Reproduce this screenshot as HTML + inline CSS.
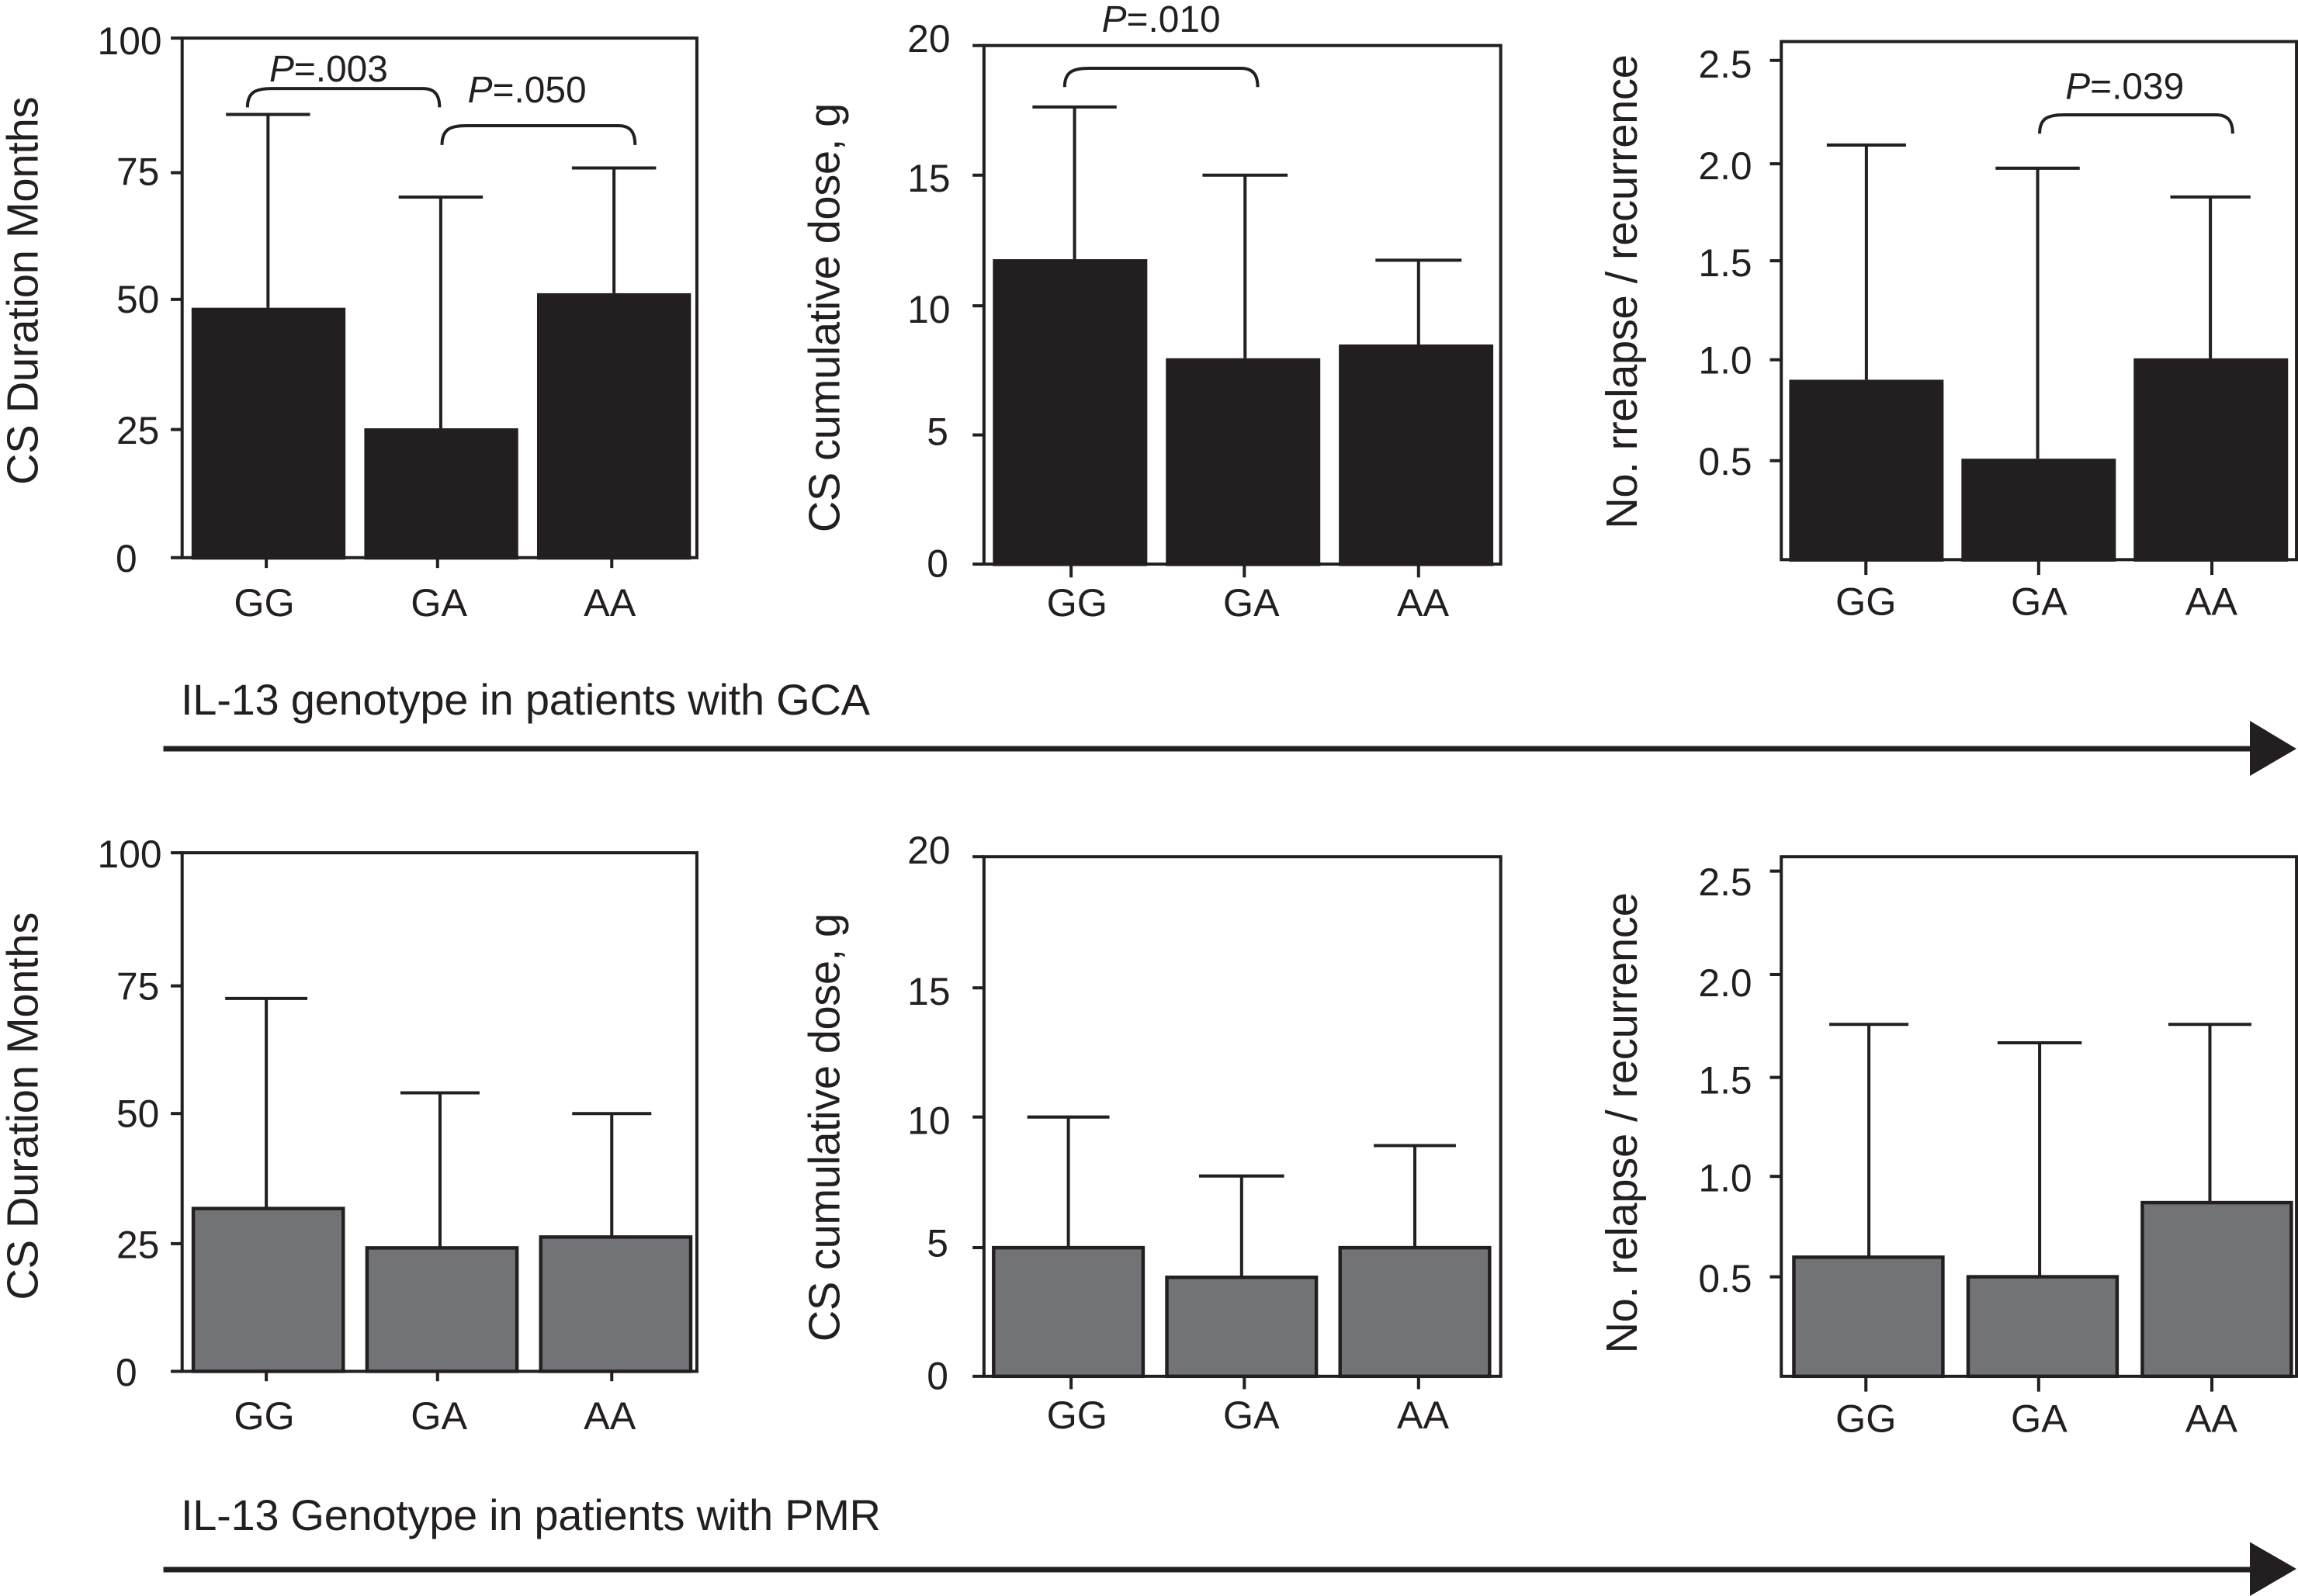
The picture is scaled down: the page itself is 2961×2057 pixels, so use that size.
<!DOCTYPE html>
<html lang="en">
<head>
<meta charset="utf-8">
<title>IL-13 genotype bar charts</title>
<style>
html,body{margin:0;padding:0;background:#fff;}
svg{display:block;}
text{font-family:"Liberation Sans",Arial,sans-serif;fill:#231f20;}
</style>
</head>
<body>
<svg id="figure" xmlns="http://www.w3.org/2000/svg" width="2961" height="2057" viewBox="0 0 2961 2057">
  <rect x="0" y="0" width="2961" height="2057" fill="#ffffff"/>
  <text x="233" y="921" font-size="56" textLength="888" lengthAdjust="spacing">IL-13 genotype in patients with GCA</text>
  <rect x="210.5" y="961.5" width="2692" height="7" fill="#231f20"/>
  <polygon points="2899,929 2959,965 2899,1000" fill="#231f20"/>
  <text x="233" y="1972" font-size="56" textLength="902" lengthAdjust="spacing">IL-13 Genotype in patients with PMR</text>
  <rect x="210.5" y="2019.5" width="2692" height="7" fill="#231f20"/>
  <polygon points="2899,1987.5 2959,2022 2899,2057" fill="#231f20"/>
</svg>
<script>
// ---------- chart data ----------
const categories = ['GG', 'GA', 'AA'];

const durationTicks = [0, 25, 50, 75, 100];
const durationTickLabels = ['0', '25', '50', '75', '100'];
const doseTicks = [0, 5, 10, 15, 20];
const doseTickLabels = ['0', '5', '10', '15', '20'];
const relapseTicks = [0.5, 1, 1.5, 2, 2.5];
const relapseTickLabels = ['0.5', '1.0', '1.5', '2.0', '2.5'];

const gcaDurationMeans = [48.1, 24.9, 50.9];
const gcaDurationUppers = [85.3, 69.4, 75.0];
const gcaDoseMeans = [11.76, 7.94, 8.47];
const gcaDoseUppers = [17.63, 15.0, 11.72];
const gcaRelapseMeans = [0.9, 0.505, 1.007];
const gcaRelapseUppers = [2.074, 1.958, 1.814];

const pmrDurationMeans = [31.4, 23.8, 25.9];
const pmrDurationUppers = [71.9, 53.7, 49.7];
const pmrDoseMeans = [4.95, 3.81, 4.95];
const pmrDoseUppers = [9.98, 7.71, 8.88];
const pmrRelapseMeans = [0.59, 0.493, 0.86];
const pmrRelapseUppers = [1.743, 1.652, 1.743];

// ---------- panel layout (units: 1000px crop shown at 1568) ----------
const panels = [
  { id:'gca-duration', ox:0, oy:0, left:368, right:1408, top:77, base:1127, yMax:100,
    ticks:durationTicks, tickLabels:durationTickLabels, means:gcaDurationMeans, uppers:gcaDurationUppers,
    solid:true, barStart:387, pitch:349, barW:311,
    errDx:[-1,-1,0], capL:[85,85,85], tickX:[538,884,1236], tickBottom:1148, catX:[534,887,1232], catBase:1245,
    tickDy:[0,3.5,3,9.5,0], labelDy:[29,32.5,30,34.5,33], labelRight:322, labelDx:[-45,0,0,0,5],
    title:'CS Duration Months', titleX:76, titleY:980, titleLen:785,
    brackets:[[500,888,179,217],[893,1283,254,293]],
    pLabels:[['=.003',544,165],['=.050',945,207]] },
  { id:'gca-dose', ox:1000, oy:0, left:420, right:1464, top:92, base:1140, yMax:20,
    ticks:doseTicks, tickLabels:doseTickLabels, means:gcaDoseMeans, uppers:gcaDoseUppers,
    solid:true, barStart:438, pitch:349.5, barW:312,
    errDx:[9,4,5], capL:[85,86,87], tickX:[596,946,1298], tickBottom:1167, catX:[608,960,1307], catBase:1245,
    tickDy:[0,1,2,0,0], labelDy:[26,21,36,33,13], labelRight:352, labelDx:[-4,-4,0,0,0],
    title:'CS cumulative dose, g', titleX:128, titleY:1076, titleLen:868,
    brackets:[[583,973,138,176]],
    pLabels:[['=.010',658,64]] },
  { id:'gca-relapse', ox:1961, oy:0, left:524, right:1565, top:84, base:1131, yMax:2.5916,
    ticks:relapseTicks, tickLabels:relapseTickLabels, means:gcaRelapseMeans, uppers:gcaRelapseUppers,
    solid:true, barStart:540, pitch:348, barW:312,
    errDx:[0,-2,-1], capL:[80,85,81], tickX:[695,1044,1394], tickBottom:1162, catX:[695,1045,1393], catBase:1243,
    tickDy:[2,0,2,8,1], labelDy:[31,28,33,39,36], labelRight:465, labelDx:[0,0,0,0,0],
    title:'No. rrelapse / recurrence', titleX:232, titleY:1069, titleLen:959,
    brackets:[[1046,1436,232,270]],
    pLabels:[['=.039',1098,200]] },
  { id:'pmr-duration', ox:0, oy:1057, left:368, right:1408, top:66, base:1114, yMax:100,
    ticks:durationTicks, tickLabels:durationTickLabels, means:pmrDurationMeans, uppers:pmrDurationUppers,
    solid:false, barStart:387, pitch:351, barW:310,
    errDx:[-4,-4,-8], capL:[83,80,80], tickX:[538,884,1236], tickBottom:1134, catX:[534,887,1232], catBase:1231,
    tickDy:[0,4,3,7,0], labelDy:[29,33,30,35,30], labelRight:322, labelDx:[-45,0,0,0,5],
    title:'CS Duration Months', titleX:76, titleY:970, titleLen:784,
    brackets:[], pLabels:[] },
  { id:'pmr-dose', ox:1000, oy:1057, left:420, right:1464, top:74, base:1124, yMax:20,
    ticks:doseTicks, tickLabels:doseTickLabels, means:pmrDoseMeans, uppers:pmrDoseUppers,
    solid:false, barStart:436, pitch:350, barW:309,
    errDx:[0,0,0], capL:[83,86,83], tickX:[596,946,1298], tickBottom:1150, catX:[608,960,1307], catBase:1229,
    tickDy:[0,2.5,1,2.5,0], labelDy:[26,20.5,35,36.5,14], labelRight:352, labelDx:[-4,-4,0,0,0],
    title:'CS cumulative dose, g', titleX:128, titleY:1054, titleLen:866,
    brackets:[], pLabels:[] },
  { id:'pmr-relapse', ox:1961, oy:1057, left:524, right:1565, top:74, base:1124, yMax:2.5735,
    ticks:relapseTicks, tickLabels:relapseTickLabels, means:pmrRelapseMeans, uppers:pmrRelapseUppers,
    solid:false, barStart:546, pitch:352, barW:308,
    errDx:[1,-6,-14], capL:[80,85,84], tickX:[695,1044,1394], tickBottom:1155, catX:[695,1045,1393], catBase:1236,
    tickDy:[3,4,8,4,-1], labelDy:[33,34,41,48,48], labelRight:465, labelDx:[0,0,0,0,0],
    title:'No. relapse / recurrence', titleX:232, titleY:1078, titleLen:932,
    brackets:[], pLabels:[] }
];

// ---------- drawing ----------
const NS = 'http://www.w3.org/2000/svg';
const INK = '#231f20';
const GREY = '#727376';
const LINE = 6.3;
const svgRoot = document.getElementById('figure');

function mk(parent, tag, attrs) {
  const el = document.createElementNS(NS, tag);
  for (const k in attrs) el.setAttribute(k, attrs[k]);
  parent.appendChild(el);
  return el;
}

function drawPanel(p) {
  const yScale = v => p.base - v * (p.base - p.top) / p.yMax;
  const xBand = i => p.barStart + i * p.pitch;

  const g = mk(svgRoot, 'g', { transform: 'translate(' + p.ox + ',' + p.oy + ') scale(' + (1000 / 1568) + ')' });
  
  

  const frame = mk(g, 'rect', { x: p.left, y: p.top, width: p.right - p.left, height: p.base - p.top, fill: 'none', stroke: INK, 'stroke-width': LINE });
  
  

  p.ticks.forEach((t, i) => {
    const ty = yScale(t);
    const tick = mk(g, 'line', { x1: p.left - 23, x2: p.left, y1: ty + p.tickDy[i], y2: ty + p.tickDy[i], stroke: INK, 'stroke-width': LINE });
    
    
    const lab = mk(g, 'text', { x: p.labelRight + p.labelDx[i], y: ty + p.labelDy[i], 'font-size': 78, 'text-anchor': 'end' });
    lab.textContent = p.tickLabels[i];
    
    
  });

  categories.forEach((c, i) => {
    const bx = xBand(i);
    const cx = bx + p.barW / 2 + p.errDx[i];
    const topY = yScale(p.means[i]);
    const capY = yScale(p.uppers[i]);

    const stem = mk(g, 'line', { x1: cx, x2: cx, y1: capY, y2: topY, stroke: INK, 'stroke-width': LINE });
    
    
    const cap = mk(g, 'line', { x1: cx - p.capL[i], x2: cx + p.capL[i], y1: capY, y2: capY, stroke: INK, 'stroke-width': LINE });
    
    

    let bar;
    if (p.solid) {
      bar = mk(g, 'rect', { x: bx, y: topY, width: p.barW, height: p.base + 4 - topY, fill: INK });
    } else {
      bar = mk(g, 'rect', { x: bx + 3.5, y: topY, width: p.barW - 7, height: p.base - topY, fill: GREY, stroke: INK, 'stroke-width': 7 });
    }
    
    

    const xt = mk(g, 'line', { x1: p.tickX[i], x2: p.tickX[i], y1: p.base, y2: p.tickBottom, stroke: INK, 'stroke-width': LINE });
    
    
    const xl = mk(g, 'text', { x: p.catX[i], y: p.catBase, 'font-size': 79, 'text-anchor': 'middle' });
    xl.textContent = c;
    
    
  });

  const title = mk(g, 'text', { transform: 'translate(' + p.titleX + ',' + p.titleY + ') rotate(-90)', 'font-size': 88, textLength: p.titleLen, lengthAdjust: 'spacing' });
  title.textContent = p.title;
  
  

  p.brackets.forEach(b => {
    const x0 = b[0], x1 = b[1], yt = b[2], yb = b[3];
    const d = 'M' + x0 + ' ' + yb + 'C' + x0 + ' ' + (yt + 6) + ' ' + (x0 + 18) + ' ' + yt + ' ' + (x0 + 50) + ' ' + yt +
      'L' + (x1 - 34) + ' ' + yt + 'C' + (x1 - 12) + ' ' + yt + ' ' + x1 + ' ' + (yt + 10) + ' ' + x1 + ' ' + yb;
    const br = mk(g, 'path', { d: d, fill: 'none', stroke: INK, 'stroke-width': LINE });
    
    
  });

  p.pLabels.forEach(l => {
    const t = mk(g, 'text', { x: l[1], y: l[2], 'font-size': 75 });
    
    
    const it = mk(t, 'tspan', { 'font-style': 'italic' });
    it.textContent = 'P';
    const rest = mk(t, 'tspan', {});
    rest.textContent = l[0];
  });
}

panels.forEach(drawPanel);
</script>
</body>
</html>
